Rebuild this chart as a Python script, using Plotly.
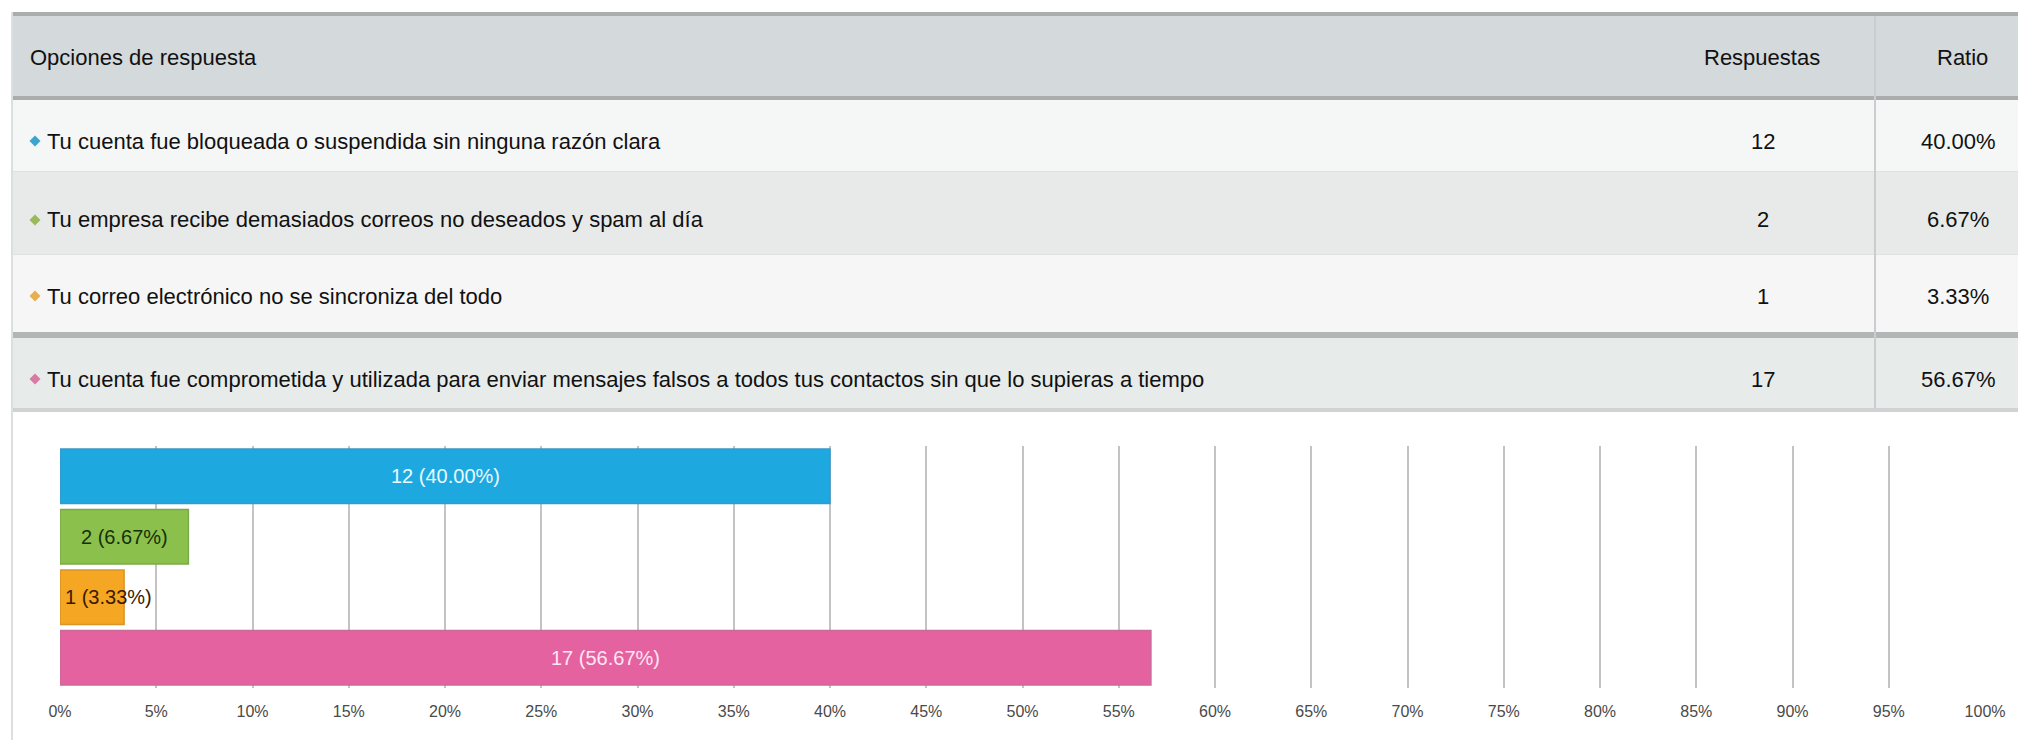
import plotly.graph_objects as go

W, H = 2018, 753

# ---- data ----
header_labels = ["Opciones de respuesta", "Respuestas", "Ratio"]
choices = [
    "Tu cuenta fue bloqueada o suspendida sin ninguna razón clara",
    "Tu empresa recibe demasiados correos no deseados y spam al día",
    "Tu correo electrónico no se sincroniza del todo",
    "Tu cuenta fue comprometida y utilizada para enviar mensajes falsos a todos tus contactos sin que lo supieras a tiempo",
]
responses = [12, 2, 1, 17]
ratios = [40.0, 6.67, 3.33, 56.67]
ratio_labels = ["40.00%", "6.67%", "3.33%", "56.67%"]
bar_labels = ["12 (40.00%)", "2 (6.67%)", "1 (3.33%)", "17 (56.67%)"]
tick_values = [0, 5, 10, 15, 20, 25, 30, 35, 40, 45, 50, 55, 60, 65, 70, 75, 80, 85, 90, 95, 100]
tick_labels = ["0%", "5%", "10%", "15%", "20%", "25%", "30%", "35%", "40%", "45%", "50%",
               "55%", "60%", "65%", "70%", "75%", "80%", "85%", "90%", "95%", "100%"]

bar_colors = ["#1ea8e0", "#8bc04c", "#f5a623", "#e4629f"]
bar_edges = ["#3a98c8", "#7aa94a", "#d9952a", "#cc6a98"]
label_colors = ["#e8fbff", "#17300a", "#3b1a00", "#ffe6f3"]
marker_colors = ["#3aa5cf", "#9ab95a", "#e6b04e", "#d87aa3"]
FONT = "Liberation Sans"
TSIZE = 22


def px(x):
    return x / W


def py(y):
    return 1 - y / H


fig = go.Figure()
fig.add_trace(go.Bar(
    x=ratios, y=choices, orientation="h",
    marker=dict(color=bar_colors, line=dict(color=bar_edges, width=1.5)),
    hoverinfo="skip", showlegend=False,
))

shapes = []
annotations = []


def rect(x0, y0, x1, y1, color):
    shapes.append(dict(type="rect", xref="paper", yref="paper",
                       x0=px(x0), x1=px(x1), y0=py(y1), y1=py(y0),
                       fillcolor=color, line=dict(width=0), layer="below"))


# table backgrounds
rect(12, 12, W, 16, "#a9adae")          # top border
rect(12, 16, W, 96, "#d4d9db")          # header
rect(12, 96, W, 100, "#a9adae")         # header bottom line
row_bounds = [(100, 171), (172, 254), (255, 332), (338, 408)]
row_bgs = ["#f5f6f6", "#e7eae9", "#f7f6f6", "#e7ebea"]
for (a, b), c in zip(row_bounds, row_bgs):
    rect(12, a, W, b, c)
rect(12, 171, W, 172, "#dfe2e2")
rect(12, 254, W, 255, "#dfe2e2")
rect(12, 332, W, 338, "#b3b6b6")        # thick separator
rect(12, 408, W, 412, "#cfd3d3")        # bottom line
rect(1874, 16, 1876, 408, "#c9cdcd")    # column separator
rect(11, 12, 13, 740, "#dcdfe0")        # left border

# header text
hfont = dict(family=FONT, size=TSIZE, color="#111")
annotations.append(dict(xref="paper", yref="paper", x=px(28), y=py(57), text=header_labels[0],
                        showarrow=False, xanchor="left", yanchor="middle", font=hfont))
annotations.append(dict(xref="paper", yref="paper", x=px(1762), y=py(57), text=header_labels[1],
                        showarrow=False, xanchor="center", yanchor="middle", font=hfont))
annotations.append(dict(xref="paper", yref="paper", x=px(1962), y=py(57), text=header_labels[2],
                        showarrow=False, xanchor="center", yanchor="middle", font=hfont))

row_centers = [141, 220, 296, 379]
for i, yc in enumerate(row_centers):
    s = 5.5
    cx = 35
    shapes.append(dict(type="path", xref="paper", yref="paper",
                       path=f"M {px(cx)} {py(yc - s)} L {px(cx + s)} {py(yc)} L {px(cx)} {py(yc + s)} L {px(cx - s)} {py(yc)} Z",
                       fillcolor=marker_colors[i], line=dict(width=0)))
    annotations.append(dict(xref="paper", yref="paper", x=px(45), y=py(yc), text=choices[i],
                            showarrow=False, xanchor="left", yanchor="middle", font=hfont))
    annotations.append(dict(xref="paper", yref="paper", x=px(1763), y=py(yc), text=str(responses[i]),
                            showarrow=False, xanchor="center", yanchor="middle", font=hfont))
    annotations.append(dict(xref="paper", yref="paper", x=px(1958), y=py(yc), text=ratio_labels[i],
                            showarrow=False, xanchor="center", yanchor="middle", font=hfont))

# bar labels
for i in range(len(choices)):
    if ratios[i] >= 5:
        annotations.append(dict(xref="x", yref="y", x=ratios[i] / 2, y=choices[i], text=bar_labels[i],
                                showarrow=False, xanchor="center", yanchor="middle",
                                font=dict(family=FONT, size=20, color=label_colors[i])))
    else:
        annotations.append(dict(xref="x", yref="y", x=0, y=choices[i], text=bar_labels[i],
                                showarrow=False, xanchor="left", yanchor="middle", xshift=3,
                                font=dict(family=FONT, size=20, color=label_colors[i])))

fig.update_layout(
    width=W, height=H,
    margin=dict(l=0, r=0, t=0, b=0, autoexpand=False),
    paper_bgcolor="white", plot_bgcolor="white",
    bargap=0.1,
    shapes=shapes, annotations=annotations,
    xaxis=dict(domain=[px(60), px(1986)], range=[0, 100.05], automargin=False,
               tickvals=tick_values, ticktext=tick_labels,
               showgrid=True, gridcolor="#c3c3c3", gridwidth=2,
               zeroline=False, showline=False, ticks="",
               ticklabelstandoff=12,
               tickfont=dict(family=FONT, size=16, color="#4a4a4a")),
    yaxis=dict(domain=[py(688), py(446)], autorange="reversed", automargin=False,
               showticklabels=False, showgrid=False, zeroline=False, ticks=""),
)

fig.write_html("out.html")
